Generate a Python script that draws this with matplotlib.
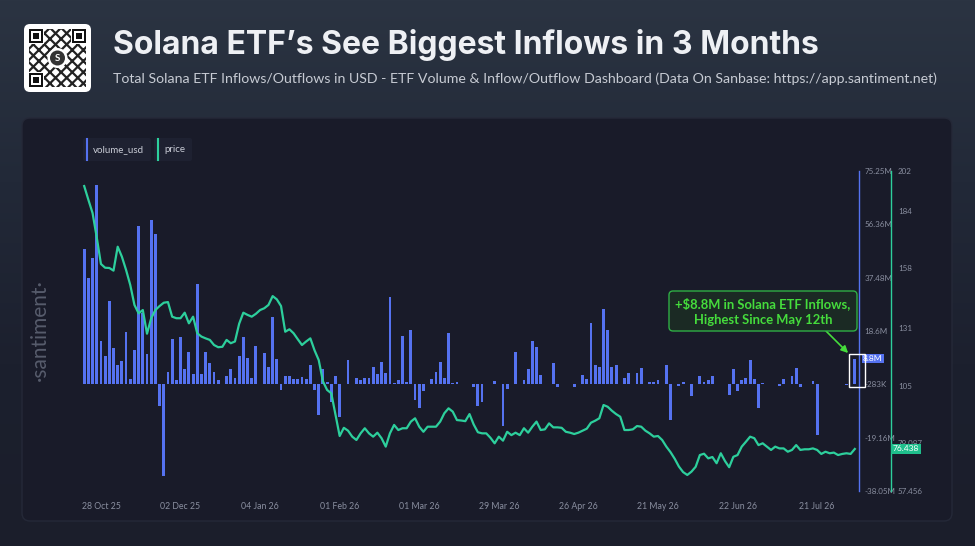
import numpy as np
import matplotlib.pyplot as plt
from matplotlib.patches import FancyBboxPatch, Rectangle, Circle
from matplotlib.colors import LinearSegmentedColormap

plt.rcParams['font.family'] = ['Lato', 'DejaVu Sans']
plt.rcParams['hatch.linewidth'] = 1.6

# net daily Solana ETF flows, millions USD (one per trading day)
volume_usd = [
    47.7, 37.2, 44.3, 70.2, 15.0, 9.7, 29.1, 12.7, 6.7, 7.9,
    18.1, 1.5, 12.0, 55.7, 25.0, 10.3, 58.0, 53.1, -8.0, -32.8,
    4.1, 15.7, 1.2, 16.5, 5.0, 11.0, 3.5, 35.2, 3.5, 11.0,
    7.4, 4.1, 1.2, 0, 2.8, 5.0, 2.1, 9.6, 16.6, 9.0,
    2.0, 13.4, 0, 10.7, 5.8, 23.5, 8.7, -2.2, 2.8, 2.8,
    1.6, 1.6, 2.3, 1.7, 6.6, -2.2, -11.3, 5.3, 0.6, -6.6,
    2.8, -11.9, 0, 8.2, 0, 2.1, 1.4, 2.0, 2.0, 5.8,
    3.4, 7.8, 3.7, 30.8, 0.2, 1.3, 16.8, 0.7, 19.0, -5.7,
    -8.6, -2.5, 0, 1.7, 4.0, 7.7, 2.0, 17.8, 0.3, 0.6,
    0, 0, 0, -1.1, -7.8, -6.4, 0, 0, 0.8, 0,
    -15.2, -2.1, 0, 11.3, 0, 1.3, 5.2, 15.2, 12.9, 3.1,
    0, 0, 7.2, -1.1, 0, 0, 0, -1.1, 0, 3.1,
    1.7, 21.4, 6.5, 6.0, 26.4, 19.0, 5.8, 6.4, 0, 1.9,
    3.8, 0, 3.8, 5.5, 0, 0.5, 0.5, 1.3, 0, 6.4,
    -12.9, 0, -0.7, 0.7, 0, -4.5, 0, 2.5, 0.4, 1.1,
    2.8, 0, 0, 0, -3.9, 5.2, -2.5, 1.1, 2.0, 8.3,
    1.7, -8.6, 0.2, 0, 0, 0, -0.7, 1.7, 0, 2.5,
    5.5, -1.3, 0, 0, 0.8, -18.1, 0, 0, 0, 0,
    0, 0, -0.4, 0, 8.8,
]

# SOL price, USD
price = [
    195.2, 189.0, 183.0, 172.0, 160.0, 158.3, 158.2, 157.0, 167.8, 163.3,
    157.3, 150.5, 141.5, 137.7, 139.2, 128.5, 135.5, 139.2, 141.0, 142.5,
    142.8, 136.2, 135.5, 135.5, 138.0, 133.2, 136.2, 128.7, 127.2, 126.4,
    125.7, 123.4, 122.4, 122.6, 125.7, 124.2, 125.0, 133.0, 138.0, 137.0,
    136.2, 137.5, 139.2, 140.0, 141.5, 145.5, 144.0, 141.0, 129.4, 130.5,
    128.7, 126.0, 123.4, 125.0, 126.4, 121.0, 116.6, 107.0, 103.1, 101.6,
    92.0, 82.3, 86.0, 84.7, 82.0, 80.5, 83.5, 85.8, 83.5, 82.0,
    83.8, 81.3, 77.5, 83.5, 87.3, 85.0, 85.8, 85.8, 88.8, 90.3,
    86.5, 84.2, 86.5, 86.5, 86.5, 88.8, 92.6, 94.8, 93.3, 89.5,
    89.3, 89.0, 92.2, 87.5, 84.0, 83.5, 83.5, 81.5, 79.0, 82.0,
    80.2, 84.2, 82.7, 83.8, 82.7, 85.8, 83.8, 86.5, 88.8, 85.0,
    85.3, 88.0, 86.2, 86.2, 86.0, 84.2, 83.8, 83.2, 83.8, 84.7,
    85.6, 88.3, 89.2, 90.3, 96.3, 95.5, 93.7, 92.2, 91.0, 85.0,
    85.0, 85.3, 86.8, 86.5, 84.7, 83.5, 82.0, 82.3, 80.5, 77.5,
    75.0, 72.0, 68.5, 66.0, 64.7, 66.2, 68.4, 73.7, 74.3, 72.2,
    72.8, 70.0, 74.5, 71.0, 68.2, 72.9, 73.7, 77.5, 79.7, 82.0,
    81.3, 78.2, 79.0, 77.5, 76.0, 77.5, 76.7, 76.7, 75.2, 76.0,
    78.2, 76.0, 76.3, 76.3, 76.7, 76.0, 74.2, 75.2, 74.5, 74.8,
    73.7, 74.2, 74.5, 74.2, 76.438,
]

xtick_labels = ['28 Oct 25', '02 Dec 25', '04 Jan 26', '01 Feb 26', '01 Mar 26',
                '29 Mar 26', '26 Apr 26', '21 May 26', '22 Jun 26', '21 Jul 26']
xtick_idx = [5, 24, 43, 62, 81, 100, 119, 138, 157, 176]

vol_ticks = [75.25, 56.36, 37.48, 18.6, -0.283, -19.16, -38.05]
vol_tick_labels = ['75.25M', '56.36M', '37.48M', '18.6M', '-283K', '-19.16M', '-38.05M']
price_ticks = [202, 184, 158, 131, 105, 79.087, 57.456]
price_tick_labels = ['202', '184', '158', '131', '105', '79.087', '57.456']

title = 'Solana ETF\u2019s See Biggest Inflows in 3 Months'
subtitle = ('Total Solana ETF Inflows/Outflows in USD - ETF Volume & Inflow/Outflow '
            'Dashboard (Data On Sanbase: https://app.santiment.net)')
note = '+$8.8M in Solana ETF Inflows,\nHighest Since May 12th'

BLUE = '#5572f0'
GREEN = '#2dcf9c'
TICK = '#8a8fa0'
NOTE_GREEN = '#45dc3c'

W, H = 975, 546
fig = plt.figure(figsize=(W / 100, H / 100), dpi=100)

# background in pixel coordinates (origin top-left)
bg = fig.add_axes([0, 0, 1, 1], zorder=0)
bg.set_xlim(0, W)
bg.set_ylim(H, 0)
bg.axis('off')
cmap = LinearSegmentedColormap.from_list('bg', ['#2b3442', '#222938', '#1c202e', '#1b1e2b'])
grad = np.linspace(0, 1, 256).reshape(-1, 1)
bg.imshow(grad, cmap=cmap, aspect='auto', extent=[0, W, H, 0], zorder=0)

panel = FancyBboxPatch((22, 118), 930, 403, boxstyle='round,pad=0,rounding_size=8',
                       fc='#191b29', ec='#252938', lw=1.0, zorder=1)
bg.add_patch(panel)

# QR badge
bg.add_patch(FancyBboxPatch((24, 24), 67, 68, boxstyle='round,pad=0,rounding_size=6',
                            fc='white', ec='none', zorder=2))
bg.add_patch(Rectangle((29, 29), 57, 58, fc='white', ec='#222222', lw=0, hatch='xxx', zorder=3))
for qx, qy in [(29, 29), (72, 29), (29, 73)]:
    bg.add_patch(Rectangle((qx - 1, qy - 1), 16, 16, fc='white', ec='none', zorder=4))
    bg.add_patch(Rectangle((qx, qy), 14, 14, fc='#111111', ec='none', zorder=5))
    bg.add_patch(Rectangle((qx + 2, qy + 2), 10, 10, fc='white', ec='none', zorder=6))
    bg.add_patch(Rectangle((qx + 4, qy + 4), 6, 6, fc='#111111', ec='none', zorder=7))
bg.add_patch(Circle((57.5, 58), 10, fc='white', ec='none', zorder=6))
bg.add_patch(Circle((57.5, 58), 7.5, fc='#333333', ec='none', zorder=7))
bg.text(57.5, 58.5, 'S', color='white', fontsize=7, fontweight='bold',
        ha='center', va='center', zorder=8)

bg.text(113, 45, title, color='#eef0f4', fontsize=23, fontweight='bold',
        family=['Inter', 'DejaVu Sans'], ha='left', va='center', zorder=3)
bg.text(113, 79, subtitle, color='#c7cbd4', fontsize=10.2,
        ha='left', va='center', zorder=3)

# legend chips
bg.add_patch(FancyBboxPatch((83, 138), 68, 23, boxstyle='round,pad=0,rounding_size=2',
                            fc='#1e2131', ec='none', zorder=2))
bg.add_patch(FancyBboxPatch((154, 138), 38, 23, boxstyle='round,pad=0,rounding_size=2',
                            fc='#1e2131', ec='none', zorder=2))
bg.plot([87, 87], [139, 160], color=BLUE, lw=1.5, zorder=3)
bg.plot([158, 158], [139, 160], color=GREEN, lw=1.5, zorder=3)
bg.text(93, 150, 'volume_usd', color='#c9ccd6', fontsize=7, va='center', zorder=3)
bg.text(164, 150, 'price', color='#c9ccd6', fontsize=7, va='center', zorder=3)

bg.text(40, 330, '\u00b7santiment\u00b7', rotation=90, color='#575c6c', fontsize=15,
        ha='center', va='center', zorder=3)

# chart
ax = fig.add_axes([80 / W, (H - 491) / H, 779 / W, 320 / H], zorder=2)
ax.set_facecolor('none')
x = np.arange(1, len(volume_usd) + 1)
ax.bar(x, volume_usd, width=0.68, color=BLUE, zorder=2)
ax.set_xlim(0, len(volume_usd) + 1)
ax.set_ylim(-38.05, 75.25)
ax.set_xticks(xtick_idx)
ax.set_xticklabels(xtick_labels)
ax.tick_params(axis='x', length=0, pad=8, labelsize=6.3, colors=TICK)

ax2 = ax.twinx()
ax2.plot(x, price, color=GREEN, lw=1.6, zorder=3)
ax2.set_ylim(57.456, 202)
ax2.set_yticks(price_ticks)
ax2.set_yticklabels(price_tick_labels)
ax2.tick_params(axis='y', length=0, pad=5, labelsize=5.8, colors=TICK)
for s in ['top', 'left', 'bottom']:
    ax2.spines[s].set_visible(False)
ax2.spines['right'].set_position(('outward', 23))
ax2.spines['right'].set_color(GREEN)
ax2.spines['right'].set_linewidth(1.0)

# volume scale sits on the right, next to the plot
ax.yaxis.tick_right()
ax.set_yticks(vol_ticks)
ax.set_yticklabels(vol_tick_labels)
ax.tick_params(axis='y', length=0, pad=4, labelsize=5.8, colors=TICK)
for s in ['top', 'left', 'bottom']:
    ax.spines[s].set_visible(False)
ax.spines['right'].set_visible(True)
ax.spines['right'].set_color(BLUE)
ax.spines['right'].set_linewidth(1.0)

# last value tags
ax.text(1.005, volume_usd[-1], '8.8M', transform=ax.get_yaxis_transform(),
        color='white', fontsize=6.0, ha='left', va='center', zorder=5,
        bbox=dict(boxstyle='square,pad=0.15', fc=BLUE, ec='none'))
ax2.text(1.043, price[-1], '76.438', transform=ax2.get_yaxis_transform(),
         color='white', fontsize=6.0, ha='left', va='center', zorder=5,
         bbox=dict(boxstyle='square,pad=0.2', fc='#1fbf8c', ec='none'))

# highlight on latest inflow
last = len(volume_usd)
ax.add_patch(Rectangle((last - 1.4, -1.4), 3.8, 12.0, fill=False, ec='white',
                       lw=1.0, clip_on=False, zorder=6))

# annotation overlay
top = fig.add_axes([0, 0, 1, 1], zorder=10)
top.set_xlim(0, W)
top.set_ylim(H, 0)
top.axis('off')
top.add_patch(FancyBboxPatch((669, 291), 188, 40, boxstyle='round,pad=0,rounding_size=4',
                             fc='#1b2a24', ec='#2fae45', lw=1.0, zorder=2))
top.text(763, 311.5, note, color=NOTE_GREEN, fontsize=9.4, fontweight='bold',
         ha='center', va='center', linespacing=1.35, zorder=3)
ax.annotate('', xy=(last - 1.6, 10.8), xycoords='data',
            xytext=(826, 331), textcoords=top.transData,
            arrowprops=dict(arrowstyle='-|>', color=NOTE_GREEN, lw=1.2,
                            mutation_scale=10, shrinkA=0, shrinkB=0),
            annotation_clip=False, zorder=7)

fig.savefig('out.png', dpi=100)
